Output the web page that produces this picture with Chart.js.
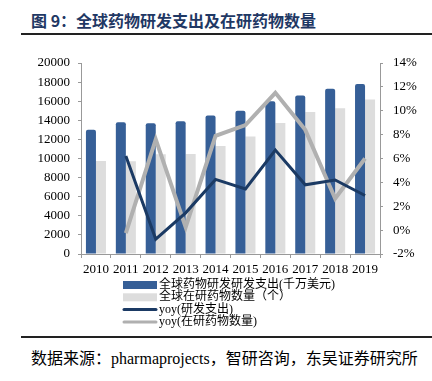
<!DOCTYPE html>
<html lang="zh">
<head>
<meta charset="UTF-8">
<title>全球药物研发支出及在研药物数量</title>
<script src="https://cdn.jsdelivr.net/npm/chart.js"></script>
<style>
  body { margin: 0; width: 432px; height: 381px; background: #fff; position: relative; overflow: hidden; }
  #title { position: absolute; left: 31px; top: 8px; font: bold 16px "Noto Sans CJK SC", sans-serif; color: #1f3864; white-space: nowrap; }
  .rule { position: absolute; left: 21px; right: 0; height: 2px; background: #222; }
  #src { position: absolute; left: 31px; top: 345px; font: 16px "Liberation Serif", "Noto Sans CJK SC", serif; color: #000; white-space: nowrap; }
  #box { position: absolute; left: 0; top: 40px; width: 432px; height: 295px; }
</style>
</head>
<body>
<div id="title">图 9：全球药物研发支出及在研药物数量</div>
<div class="rule" style="top:33px"></div>
<div id="box"><canvas id="myChart"></canvas></div>
<div class="rule" style="top:336px"></div>
<div id="src">数据来源：pharmaprojects，智研咨询，东吴证券研究所</div>

<script>
// data
var years = ['2010', '2011', '2012', '2013', '2014', '2015', '2016', '2017', '2018', '2019'];
var rdSpend = [13000, 13800, 13700, 13900, 14500, 15000, 16000, 16600, 17300, 17800];   // 千万美元
var pipeline = [9737, 9713, 10452, 10479, 11307, 12300, 13718, 14872, 15267, 16181];    // 个
var rdYoy = [null, 6.2, -0.75, 1.45, 4.25, 3.45, 6.7, 3.8, 4.2, 2.9];                // %
var pipeYoy = [null, -0.25, 7.6, 0.25, 7.9, 8.8, 11.5, 8.4, 2.65, 6.0];              // %
var leftTicks = [0, 2000, 4000, 6000, 8000, 10000, 12000, 14000, 16000, 18000, 20000];
var rightTicks = [-2, 0, 2, 4, 6, 8, 10, 12, 14];

var serif = '"Liberation Serif", "Noto Sans CJK SC", serif';

// legend drawn by hand so rows line up on the left like the original
var stackedLegend = {
  id: 'stackedLegend',
  afterDraw: function (chart) {
    var ctx = chart.ctx;
    var x0 = 123, y0 = 245, step = 12.3;
    ctx.save();
    ctx.font = '12px ' + serif;
    ctx.textBaseline = 'middle';
    chart.data.datasets.forEach(function (ds, i) {
      var y = y0 + i * step;
      if (ds.type === 'line') {
        ctx.strokeStyle = ds.borderColor;
        ctx.lineWidth = 3;
        ctx.lineCap = 'round';
        ctx.beginPath();
        ctx.moveTo(x0 + 1, y);
        ctx.lineTo(x0 + 33, y);
        ctx.stroke();
      } else {
        ctx.fillStyle = ds.backgroundColor;
        ctx.fillRect(x0, y - 4, 34, 8);
      }
      ctx.fillStyle = '#000';
      ctx.fillText(ds.label, x0 + 36, y);
    });
    ctx.restore();
  }
};

var ctx = document.getElementById('myChart').getContext('2d');

var chart = new Chart(ctx, {
  type: 'bar',
  data: {
    labels: years,
    datasets: [{
      label: '全球药物研发研发支出(千万美元)',
      data: rdSpend,
      backgroundColor: '#365f97',
      borderRadius: 2,
      yAxisID: 'y',
      order: 3
    }, {
      label: '全球在研药物数量（个）',
      data: pipeline,
      backgroundColor: '#dddddd',
      yAxisID: 'y',
      order: 3
    }, {
      type: 'line',
      label: 'yoy(研发支出)',
      data: rdYoy,
      borderColor: '#1b3a64',
      borderWidth: 3,
      pointRadius: 0,
      tension: 0,
      yAxisID: 'y1',
      order: 0
    }, {
      type: 'line',
      label: 'yoy(在研药物数量)',
      data: pipeYoy,
      borderColor: '#b0b0b0',
      borderWidth: 4,
      pointRadius: 0,
      tension: 0,
      yAxisID: 'y1',
      order: 1
    }]
  },
  options: {
    responsive: true,
    maintainAspectRatio: false,
    animation: false,
    categoryPercentage: 0.67,
    barPercentage: 1,
    layout: { padding: { top: 23, left: 0, right: 0, bottom: 51 } },
    plugins: {
      legend: { display: false },
      tooltip: { enabled: false }
    },
    scales: {
      x: {
        grid: { display: true, drawOnChartArea: false, color: '#999', tickLength: 4 },
        border: { color: '#999' },
        ticks: { color: '#000', font: { family: serif, size: 13 }, padding: 4, maxRotation: 0 },
        afterFit: function (s) { s.height = 30; }
      },
      y: {
        position: 'left',
        min: 0,
        max: 20000,
        afterBuildTicks: function (s) { s.ticks = leftTicks.map(function (v) { return { value: v }; }); },
        grid: { drawOnChartArea: false, color: '#999', tickLength: 3 },
        border: { color: '#999' },
        ticks: {
          color: '#000', font: { family: serif, size: 13 }, padding: 8,
          callback: function (v) { return String(v); }
        },
        afterFit: function (s) { s.width = 81; }
      },
      y1: {
        position: 'right',
        min: -2,
        max: 14,
        afterBuildTicks: function (s) { s.ticks = rightTicks.map(function (v) { return { value: v }; }); },
        grid: { drawOnChartArea: false, color: '#999', tickLength: 3 },
        border: { color: '#999' },
        ticks: {
          color: '#000', font: { family: serif, size: 13 }, padding: 10,
          callback: function (v) { return v + '%'; }
        },
        afterFit: function (s) { s.width = 52; }
      }
    }
  },
  plugins: [stackedLegend]
});
</script>
</body>
</html>
